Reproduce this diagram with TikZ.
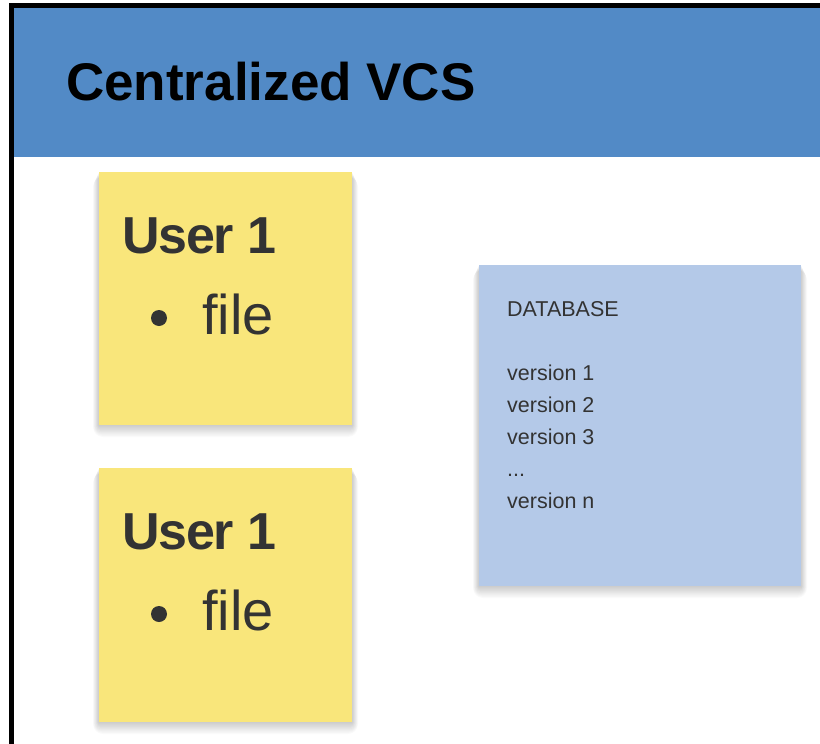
\documentclass[tikz,border=0pt]{standalone}
\usepackage{fontspec}
\setmainfont{Liberation Sans}
\definecolor{headblue}{HTML}{528AC6}
\definecolor{stickyyellow}{HTML}{F9E67B}
\definecolor{dbblue}{HTML}{B4C9E8}
\definecolor{inkgray}{HTML}{333333}
\tikzset{
  sticky/.style={fill=#1, draw=none, minimum width=253pt, minimum height=253pt, inner sep=0pt, anchor=north west},
  boxshadow/.style={fill=black, opacity=0.018, draw=none},
  usertitle/.style={anchor=base west, inner sep=0pt, font=\fontsize{52}{60}\selectfont\bfseries\addfontfeature{LetterSpace=-2.5}, text=inkgray},
  useritem/.style={anchor=base west, inner sep=0pt, font=\fontsize{56}{64}\selectfont, text=inkgray},
  dbtext/.style={anchor=base west, inner sep=0pt, font=\fontsize{21.5}{32}\selectfont, text=inkgray, align=left}
}
\begin{document}
\begin{tikzpicture}[x=1pt,y=-1pt]
\useasboundingbox (0,0) rectangle (820,744);
% frame
\fill[white] (0,0) rectangle (820,744);
\fill[black] (9,3) rectangle (820,744);
\fill[white] (14,8) rectangle (820,744);
% header
\node[fill=headblue, minimum width=806pt, minimum height=149pt, inner sep=0pt, anchor=north west] (header) at (14,8) {};
\node[anchor=base west, inner sep=0pt, font=\fontsize{53}{60}\selectfont\bfseries, text=black] (title) at (66,100) {Centralized VCS};
% soft shadows
\foreach \d in {1,...,10}{
  \fill[boxshadow, rounded corners=\d] (99-\d*0.6,172+\d*0.5) rectangle (352+\d*0.6,425+\d*1.2);
  \fill[boxshadow, rounded corners=\d] (99-\d*0.6,468+\d*0.5) rectangle (352+\d*0.6,722+\d*1.2);
  \fill[boxshadow, rounded corners=\d] (479-\d*0.6,265+\d*0.5) rectangle (801+\d*0.6,586+\d*1.2);
}
% user sticky 1
\node[sticky=stickyyellow] (u1) at (99,172) {};
\node[usertitle] (u1title) at (122,253) {User 1};
\fill[inkgray] (159,318) circle (8) coordinate (u1bullet);
\node[useritem] (u1file) at (202,334) {file};
% user sticky 2
\node[sticky=stickyyellow, minimum height=254pt] (u2) at (99,468) {};
\node[usertitle] (u2title) at (122,549) {User 1};
\fill[inkgray] (159,614) circle (8) coordinate (u2bullet);
\node[useritem] (u2file) at (202,630) {file};
% database
\node[fill=dbblue, minimum width=322pt, minimum height=321pt, inner sep=0pt, anchor=north west] (db) at (479,265) {};
\node[dbtext] (dbhead) at (507,316) {DATABASE};
\node[dbtext] (v1) at (507,380) {version 1};
\node[dbtext] (v2) at (507,412) {version 2};
\node[dbtext] (v3) at (507,444) {version 3};
\node[dbtext] (vdots) at (507,476) {...};
\node[dbtext] (vn) at (507,508) {version n};
\end{tikzpicture}
\end{document}
